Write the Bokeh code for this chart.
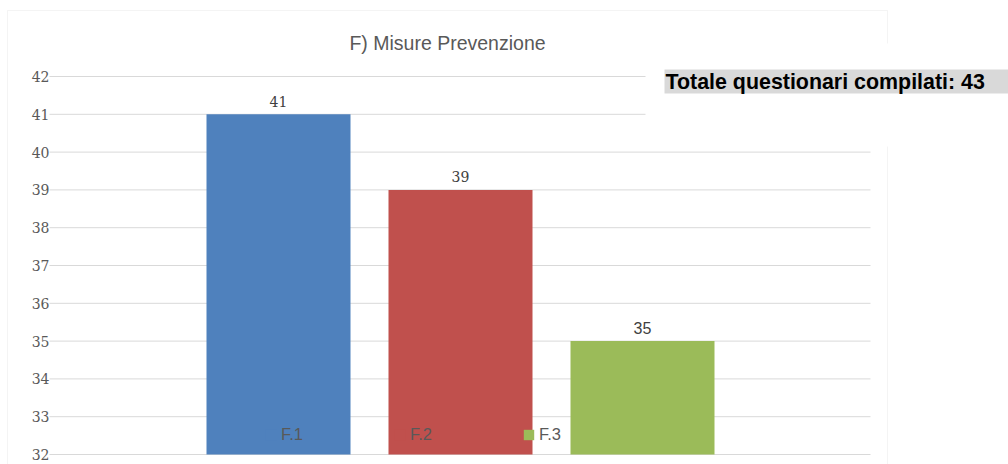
from bokeh.plotting import figure
from bokeh.models import (ColumnDataSource, Range1d, BoxAnnotation,
                          Label, FixedTicker, Legend, LegendItem)
from bokeh.embed import file_html
from bokeh.resources import INLINE

# ---- data ----
series = ["F.1", "F.2", "F.3"]
counts = [41, 39, 35]
y_ticks = [32, 33, 34, 35, 36, 37, 38, 39, 40, 41, 42]
title_text = "F) Misure Prevenzione"
total_text = "Totale questionari compilati: 43"

# ---- styles ----
colors = ["#4f81bd", "#c0504d", "#9bbb59"]
label_fonts = ["DejaVu Serif", "DejaVu Serif", "Liberation Sans"]
label_sizes = ["14px", "14px", "16px"]
grid_col = "#d9d9d9"

W, H = 1008, 464
# pixel layout of the plotting area (canvas px)
PX_LEFT, PX_RIGHT = 49, 870
PX_Y32, PX_Y42 = 454, 76
PX_CENTER1, PX_STEP = 460, 182          # centre of 2nd bar, bar pitch
LABEL_GAP = 13                          # px between bar top and value label
ppu = (PX_Y32 - PX_Y42) / (y_ticks[-1] - y_ticks[0])


def xd(px):
    return 1 + (px - PX_CENTER1) / PX_STEP


def yd(py):
    return y_ticks[0] + (PX_Y32 - py) / ppu


idx = list(range(len(series)))
src = ColumnDataSource(dict(x=idx, top=counts, color=colors,
                            ly=[c + LABEL_GAP / ppu for c in counts],
                            txt=[str(c) for c in counts],
                            font=label_fonts, size=label_sizes))

p = figure(width=W, height=H, output_backend="svg", toolbar_location=None,
           x_range=Range1d(xd(0), xd(W)), y_range=Range1d(yd(H), yd(0)),
           min_border=0, min_border_left=0, min_border_right=0,
           min_border_top=0, min_border_bottom=0)
p.outline_line_color = None
p.background_fill_color = "white"
p.border_fill_color = "white"

p.xaxis.visible = False
p.xgrid.grid_line_color = None
p.ygrid.grid_line_color = None
p.yaxis.fixed_location = xd(PX_LEFT + 6)
p.yaxis.ticker = FixedTicker(ticks=y_ticks)
p.yaxis.axis_line_color = None
p.yaxis.major_tick_line_color = None
p.yaxis.minor_tick_line_color = None
p.yaxis.major_label_text_font = "DejaVu Serif"
p.yaxis.major_label_text_font_size = "14px"
p.yaxis.major_label_text_color = "#595959"
p.yaxis.major_label_standoff = 0

# horizontal gridlines at the tick values
p.segment(x0=xd(PX_LEFT), x1=xd(PX_RIGHT), y0=y_ticks, y1=y_ticks,
          line_color=grid_col, line_width=1)

bars = p.vbar(x="x", top="top", bottom=y_ticks[0], width=144 / PX_STEP,
              source=src, fill_color="color", line_color=None)

p.text(x="x", y="ly", text="txt", source=src, text_font="font",
       text_font_size="size", text_color="#404040", text_align="center",
       text_baseline="alphabetic")

# legend
legend = Legend(items=[LegendItem(label=s, renderers=[bars], index=i)
                       for i, s in enumerate(series)],
                orientation="horizontal", location=(264, 20),
                glyph_width=13, glyph_height=13, label_standoff=4,
                spacing=90, padding=0, margin=0,
                label_text_font="Liberation Sans", label_text_font_size="16.5px",
                label_text_color="#595959", label_height=16,
                border_line_color=None, background_fill_alpha=0)
p.add_layout(legend, "center")


def cbox(l, r, t, b, **kw):
    return BoxAnnotation(left=l, right=r, top=t, bottom=b,
                         left_units="canvas", right_units="canvas",
                         top_units="canvas", bottom_units="canvas", **kw)


# outer chart border
p.add_layout(cbox(7, 887, 10, 480, fill_alpha=0, line_color=grid_col,
                  line_width=1))
# white cover (text box area)
p.add_layout(cbox(645, 892, 43, 146, fill_color="white", fill_alpha=1,
                  line_color=None))
# gray text background
p.add_layout(cbox(664, 1010, 69, 93, fill_color="#d9d9d9", fill_alpha=1,
                  line_color=None))
p.add_layout(Label(x=665, y=81, x_units="canvas", y_units="canvas",
                   text=total_text, text_font="Liberation Sans",
                   text_font_size="21.4px", text_font_style="bold",
                   text_color="black", text_baseline="middle", text_align="left"))
# title
p.add_layout(Label(x=447, y=42, x_units="canvas", y_units="canvas",
                   text=title_text, text_font="Liberation Sans",
                   text_font_size="19.5px", text_color="#595959",
                   text_baseline="middle", text_align="center"))

open("out.html", "w").write(file_html(p, INLINE))
